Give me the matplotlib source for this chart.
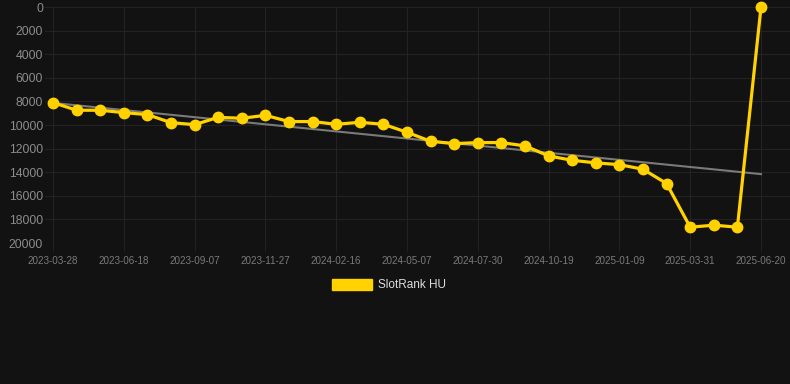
import matplotlib
matplotlib.use('Agg')
import matplotlib.pyplot as plt
import numpy as np

plt.rcParams['font.family'] = ['Liberation Sans', 'DejaVu Sans']

C = {'bg': '#121212', 'grid': '#232323', 'yellow': '#ffd200', 'trend': '#7a7a7a',
     'tick': '#8c8c8c', 'xtick': '#7a7a7a', 'legend': '#dddddd'}

dates = ['2023-03-28', '2023-04-24', '2023-05-21', '2023-06-18', '2023-07-15', '2023-08-11',
         '2023-09-07', '2023-10-04', '2023-10-31', '2023-11-27', '2023-12-24', '2024-01-20',
         '2024-02-16', '2024-03-14', '2024-04-10', '2024-05-07', '2024-06-03', '2024-07-02',
         '2024-07-30', '2024-08-26', '2024-09-22', '2024-10-19', '2024-11-15', '2024-12-12',
         '2025-01-09', '2025-02-05', '2025-03-04', '2025-03-31', '2025-04-27', '2025-05-24',
         '2025-06-20']
ranks = [8100, 8750, 8750, 8950, 9120, 9800, 9970, 9350, 9430, 9180, 9710, 9710,
         9940, 9770, 9940, 10615, 11380, 11580, 11490, 11490, 11770, 12620, 12990,
         13210, 13360, 13750, 14960, 18660, 18490, 18660, 30]
y_ticks = [0, 2000, 4000, 6000, 8000, 10000, 12000, 14000, 16000, 18000, 20000]

W, H = 790, 384
fig = plt.figure(figsize=(W / 100, H / 100), dpi=100)
fig.patch.set_facecolor(C['bg'])
ax = fig.add_axes([45 / W, 1 - 243 / H, 1 - 45 / W, (243 - 7) / H])
ax.set_facecolor(C['bg'])

x = np.arange(len(ranks))
# linear trend over the series
k, b = np.polyfit(x, ranks, 1)
ax.plot(x, k * x + b, color=C['trend'], linewidth=1.5, zorder=2)
ax.plot(x, ranks, color=C['yellow'], linewidth=2.3, marker='o', markersize=7.5,
        zorder=3, clip_on=False)

ax.set_xlim(-8 / 23.6, 30 + 29 / 23.6)
ax.set_ylim(20000, 0)
ax.set_yticks(y_ticks)
ax.set_yticklabels([str(v) for v in y_ticks])
ax.set_xticks(x[::3])
ax.set_xticklabels(dates[::3])

ax.grid(True, color=C['grid'], linewidth=0.8)
ax.set_axisbelow(True)
for s in ax.spines.values():
    s.set_visible(False)
ax.tick_params(axis='y', length=0, pad=1.5, labelsize=8.8, labelcolor=C['tick'])
ax.tick_params(axis='x', length=6, color=C['grid'], pad=3.5, labelsize=7.1, labelcolor=C['xtick'])

# legend
fig.patches.append(plt.Rectangle((332 / W, 1 - 290 / H), 40 / W, 11 / H,
                                 transform=fig.transFigure, color=C['yellow']))
fig.text(378 / W, 1 - 285 / H, 'SlotRank HU', color=C['legend'], fontsize=8.5, va='center')

fig.savefig('out.png', dpi=100, facecolor=C['bg'])
